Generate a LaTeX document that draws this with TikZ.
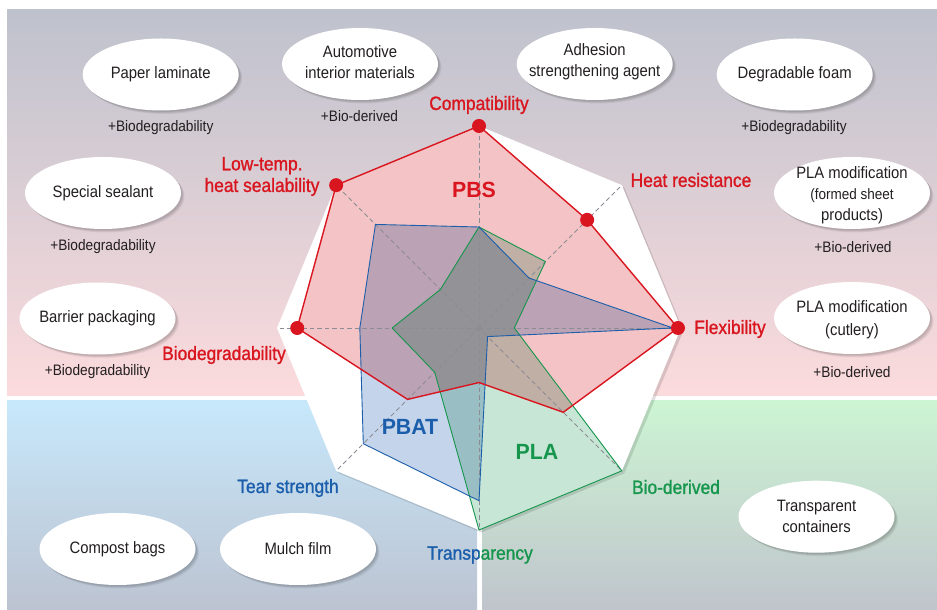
\documentclass[tikz,border=0pt]{standalone}
\usepackage{fontspec}
\setmainfont{Liberation Sans}[FakeStretch=0.9]
\newfontfamily\labfont{Liberation Sans}[FakeStretch=0.9,FakeBold=1.2]
\newfontfamily\polyfont{Liberation Sans}[FakeStretch=0.97]
\usetikzlibrary{shapes.geometric,shadows,calc}
\definecolor{pbsred}{HTML}{D9161F}
\definecolor{pbatblue}{HTML}{1B5EAB}
\definecolor{plagreen}{HTML}{15964C}
\definecolor{pbsfill}{HTML}{F4C3C5}
\definecolor{pbatfill}{HTML}{C4D4EA}
\definecolor{plafill}{HTML}{C8E6D6}
\definecolor{txt}{HTML}{231F20}
\definecolor{axisgray}{HTML}{8C8C94}
\definecolor{uptop}{HTML}{BEC2CD}
\definecolor{upbot}{HTML}{FCDBDD}
\definecolor{lltop}{HTML}{C7E8FB}
\definecolor{llbot}{HTML}{BCC3D1}
\definecolor{lrtop}{HTML}{CCF5D3}
\definecolor{lrbot}{HTML}{C0C4CC}
\begin{document}
\begin{tikzpicture}[x=1pt,y=1pt,
  app/.style={ellipse, fill=white, minimum width=156pt, minimum height=72pt, inner sep=0pt,
     general shadow={fill=black, opacity=0.06, shadow xshift=3.5pt, shadow yshift=-3.5pt},
     general shadow={fill=black, opacity=0.08, shadow xshift=2.5pt, shadow yshift=-2.5pt},
     general shadow={fill=black, opacity=0.08, shadow xshift=1.5pt, shadow yshift=-1.5pt}},
  apptext/.style={text=txt, font=\fontsize{16.5}{21}\selectfont, align=center, inner sep=0pt},
  sub/.style={text=txt, font=\fontsize{15.2}{18}\selectfont, inner sep=0pt},
  lab/.style={font=\labfont\fontsize{19.3}{21.6}\selectfont, inner sep=0pt, align=center},
  polyname/.style={font=\polyfont\bfseries\fontsize{22}{24}\selectfont, inner sep=0pt},
  axisline/.style={axisgray, dashed, dash pattern=on 4.5pt off 3pt, line width=0.9pt},
  pbsline/.style={pbsred, line width=1.4pt, line join=round},
  pbatline/.style={pbatblue, line width=0.9pt, line join=round},
  plaline/.style={plagreen, line width=0.9pt, line join=round},
  dotmark/.style={fill=pbsred}
]
\useasboundingbox (0,0) rectangle (937,610);
% panels
\shade[top color=uptop, bottom color=upbot] (7,214) rectangle (937,600);
\shade[top color=lltop, bottom color=llbot] (7,0) rectangle (477,209);
\shade[top color=lrtop, bottom color=lrbot] (482,0) rectangle (937,209);

% radar geometry
\coordinate (C) at (479,282);
\foreach \i in {1,...,8} {
  \coordinate (o\i) at ($(C)+({90-45*(\i-1)}:202)$);
}
\foreach \v [count=\i] in {1.0,0.757,0.985,0.59,0.27,0.5,0.9,1.0} {
  \coordinate (pbs\i) at ($(C)+({90-45*(\i-1)}:{202*\v})$);
}
\foreach \v [count=\i] in {0.5,0.35,0.96,0.06,0.855,0.81,0.59,0.725} {
  \coordinate (pbat\i) at ($(C)+({90-45*(\i-1)}:{202*\v})$);
}
\foreach \v [count=\i] in {0.5,0.465,0.175,1.0,1.0,0.31,0.43,0.27} {
  \coordinate (pla\i) at ($(C)+({90-45*(\i-1)}:{202*\v})$);
}

% octagon
\fill[black, opacity=0.12, transform canvas={shift={(2.5pt,-2.5pt)}}] (o1)--(o2)--(o3)--(o4)--(o5)--(o6)--(o7)--(o8)--cycle;
\fill[white] (o1)--(o2)--(o3)--(o4)--(o5)--(o6)--(o7)--(o8)--cycle;

% fills
\fill[pbsfill, blend mode=multiply] (pbs1)--(pbs2)--(pbs3)--(pbs4)--(pbs5)--(pbs6)--(pbs7)--(pbs8)--cycle;
\fill[pbatfill, blend mode=multiply] (pbat1)--(pbat2)--(pbat3)--(pbat4)--(pbat5)--(pbat6)--(pbat7)--(pbat8)--cycle;
\fill[plafill, blend mode=multiply] (pla1)--(pla2)--(pla3)--(pla4)--(pla5)--(pla6)--(pla7)--(pla8)--cycle;

% axes
\foreach \i in {1,...,8} { \draw[axisline] (C) -- (o\i); }

% outlines
\draw[plaline] (pla1)--(pla2)--(pla3)--(pla4)--(pla5)--(pla6)--(pla7)--(pla8)--cycle;
\draw[pbatline] (pbat1)--(pbat2)--(pbat3)--(pbat4)--(pbat5)--(pbat6)--(pbat7)--(pbat8)--cycle;
\draw[pbsline] (pbs1)--(pbs2)--(pbs3)--(pbs4)--(pbs5)--(pbs6)--(pbs7)--(pbs8)--cycle;
\foreach \i in {1,2,3,7,8} { \fill[dotmark] (pbs\i) circle (7pt); }

% polymer names
\node[polyname, text=pbsred] (npbs) at (474,420) {PBS};
\node[polyname, text=pbatblue] (npbat) at (410,183.5) {PBAT};
\node[polyname, text=plagreen] (npla) at (537,158.3) {PLA};

% axis labels
\node[lab, text=pbsred] (lcompat) at (479,505) {Compatibility};
\node[lab, text=pbsred] (lheat) at (691,430) {Heat resistance};
\node[lab, text=pbsred] (lflex) at (730,281) {Flexibility};
\node[lab, text=plagreen] (lbio) at (676,123) {Bio-derived};
\begin{scope}
  \clip (0,0) rectangle (479.5,100);
  \node[lab, text=pbatblue] (ltransp) at (480,55) {Transparency};
\end{scope}
\begin{scope}
  \clip (479.5,0) rectangle (937,100);
  \node[lab, text=plagreen] (ltranspb) at (480,55) {Transparency};
\end{scope}
\node[lab, text=pbatblue] (ltear) at (288,122) {Tear strength};
\node[lab, text=pbsred] (lbiodeg) at (224,255) {Biodegradability};
\node[lab, text=pbsred] (llow) at (262,433.5) {Low-temp.\\heat sealability};

% application ellipses
\node[app] (e1) at (160.7,535.5) {};
\node[apptext] (t1) at (e1) {Paper laminate};
\node[sub] (s1) at (160.7,482.3) {+Biodegradability};

\node[app] (e2) at (360,546) {};
\node[apptext] (t2) at ($(e2)+(0,1.5)$) {Automotive\\interior materials};
\node[sub] (s2) at (359.5,494.3) {+Bio-derived};

\node[app] (e3) at (594.7,546) {};
\node[apptext] (t3) at ($(e3)+(0,2.5)$) {Adhesion\\strengthening agent};

\node[app] (e4) at (794.7,535.5) {};
\node[apptext] (t4) at (e4) {Degradable foam};
\node[sub] (s4) at (794,482.3) {+Biodegradability};

\node[app] (e5) at (103,417) {};
\node[apptext] (t5) at (e5) {Special sealant};
\node[sub] (s5) at (103,363.3) {+Biodegradability};

\node[app] (e6) at (852,417) {};
\node[apptext] (t6) at ($(e6)+(0,-2)$) {PLA modification\\\fontsize{15}{18}\selectfont (formed sheet\\products)};
\node[sub] (s6) at (853,363.3) {+Bio-derived};

\node[app] (e7) at (97.5,291.5) {};
\node[apptext] (t7) at (e7) {Barrier packaging};
\node[sub] (s7) at (97.5,238.3) {+Biodegradability};

\node[app] (e8) at (852,292) {};
\node[apptext, font=\fontsize{16.5}{22.7}\selectfont] (t8) at ($(e8)+(0,-1.5)$) {PLA modification\\(cutlery)};
\node[sub] (s8) at (852,238.3) {+Bio-derived};

\node[app] (e9) at (117.5,61) {};
\node[apptext] (t9) at (e9) {Compost bags};

\node[app] (e10) at (298,61) {};
\node[apptext] (t10) at (e10) {Mulch film};

\node[app] (e11) at (816.5,93.3) {};
\node[apptext] (t11) at (e11) {Transparent\\containers};
\end{tikzpicture}
\end{document}
